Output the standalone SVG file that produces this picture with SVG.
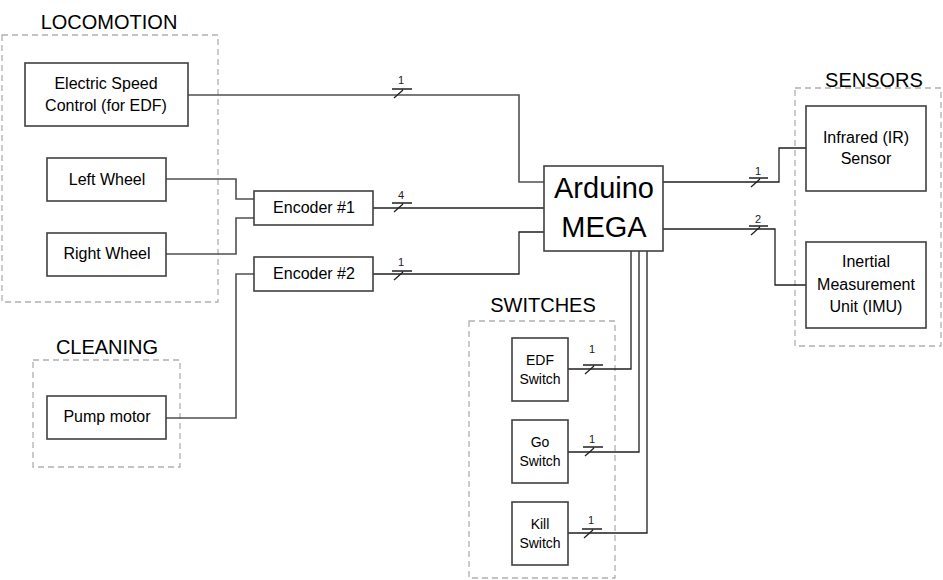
<svg xmlns="http://www.w3.org/2000/svg" width="943" height="580" viewBox="0 0 943 580">
<style>
.grp{fill:none;stroke:#b0b0b0;stroke-width:1.3;stroke-dasharray:6 4}
.box{fill:#fff;stroke:#404040;stroke-width:1.6}
.ttl{font-family:"Liberation Sans",Arial,sans-serif;font-size:20px;fill:#000;text-anchor:middle}
.t{font-family:"Liberation Sans",Arial,sans-serif;font-size:16px;fill:#000;text-anchor:middle}
.ts{font-family:"Liberation Sans",Arial,sans-serif;font-size:14px;fill:#000;text-anchor:middle}
.tb{font-family:"Liberation Sans",Arial,sans-serif;font-size:29px;fill:#000;text-anchor:middle}
.bl{font-family:"Liberation Sans",Arial,sans-serif;font-size:11px;fill:#1a1a1a;text-anchor:middle}
.w{fill:none;stroke:#202020;stroke-width:1.3}
.g{fill:none;stroke:#505050;stroke-width:1.6}
</style>
<rect width="943" height="580" fill="#fff"/>
<g id="groups">
<rect class="grp" x="2" y="35" width="216" height="267"/>
<text class="ttl" x="109" y="29">LOCOMOTION</text>
<rect class="grp" x="33" y="360" width="147" height="107"/>
<text class="ttl" x="107" y="354">CLEANING</text>
<rect class="grp" x="469" y="321" width="146" height="257"/>
<text class="ttl" x="543" y="312">SWITCHES</text>
<rect class="grp" x="795" y="88" width="146" height="258"/>
<text class="ttl" x="874" y="87">SENSORS</text>
</g>
<g id="connectors">
<path class="g" d="M188 95H519V182H544"/>
<path class="g" d="M166 179H236V199H254"/>
<path class="g" d="M166 254H236V218H254"/>
<path class="g" d="M166 418H236V274H254"/>
<path class="w" d="M373 208H544"/>
<path class="w" d="M373 274H519V232H544"/>
<path class="w" d="M663 182H779V148H806"/>
<path class="w" d="M663 229H775V285H806"/>
<path class="w" d="M631 251V369H568"/>
<path class="w" d="M639 251V452H568"/>
<path class="w" d="M647 251V533H568"/>
<g class="w">
<path d="M392 89H412M394 98L403 90"/>
<path d="M392 203H412M394 212L403 204"/>
<path d="M392 271H412M394 280L403 272"/>
<path d="M749 178H768M751 187L760 179"/>
<path d="M749 226H768M751 235L760 227"/>
<path d="M583 365H603M585 374L594 366"/>
<path d="M583 447H603M585 456L594 448"/>
<path d="M582 529H602M584 538L593 530"/>
</g>
<text class="bl" x="401" y="84">1</text>
<text class="bl" x="401" y="199">4</text>
<text class="bl" x="401" y="266">1</text>
<text class="bl" x="758" y="175">1</text>
<text class="bl" x="758" y="223">2</text>
<text class="bl" x="592" y="353">1</text>
<text class="bl" x="592" y="443">1</text>
<text class="bl" x="591" y="524">1</text>
</g>
<g id="esc"><rect class="box" x="25" y="63" width="163" height="63"/><text class="t" x="106" y="89">Electric Speed</text><text class="t" x="106" y="111">Control (for EDF)</text></g>
<g id="left-wheel"><rect class="box" x="47" y="158" width="119" height="43"/><text class="t" x="107" y="185">Left Wheel</text></g>
<g id="right-wheel"><rect class="box" x="47" y="233" width="119" height="43"/><text class="t" x="107" y="259">Right Wheel</text></g>
<g id="pump-motor"><rect class="box" x="47" y="396" width="119" height="43"/><text class="t" x="107" y="422">Pump motor</text></g>
<g id="encoder1"><rect class="box" x="254" y="191" width="119" height="34"/><text class="t" x="314" y="213">Encoder #1</text></g>
<g id="encoder2"><rect class="box" x="254" y="257" width="119" height="34"/><text class="t" x="314" y="279">Encoder #2</text></g>
<g id="arduino"><rect class="box" x="544" y="166" width="119" height="85"/><text class="tb" x="604" y="198">Arduino</text><text class="tb" x="604" y="237">MEGA</text></g>
<g id="ir"><rect class="box" x="806" y="106" width="120" height="85"/><text class="t" x="866" y="143">Infrared (IR)</text><text class="t" x="866" y="164">Sensor</text></g>
<g id="imu"><rect class="box" x="806" y="242" width="120" height="86"/><text class="t" x="866" y="267">Inertial</text><text class="t" x="866" y="290">Measurement</text><text class="t" x="866" y="312">Unit (IMU)</text></g>
<g id="edf-switch"><rect class="box" x="512" y="338" width="56" height="63"/><text class="ts" x="540" y="365">EDF</text><text class="ts" x="540" y="384">Switch</text></g>
<g id="go-switch"><rect class="box" x="512" y="420" width="56" height="63"/><text class="ts" x="540" y="447">Go</text><text class="ts" x="540" y="466">Switch</text></g>
<g id="kill-switch"><rect class="box" x="512" y="502" width="56" height="63"/><text class="ts" x="540" y="529">Kill</text><text class="ts" x="540" y="548">Switch</text></g>
</svg>
